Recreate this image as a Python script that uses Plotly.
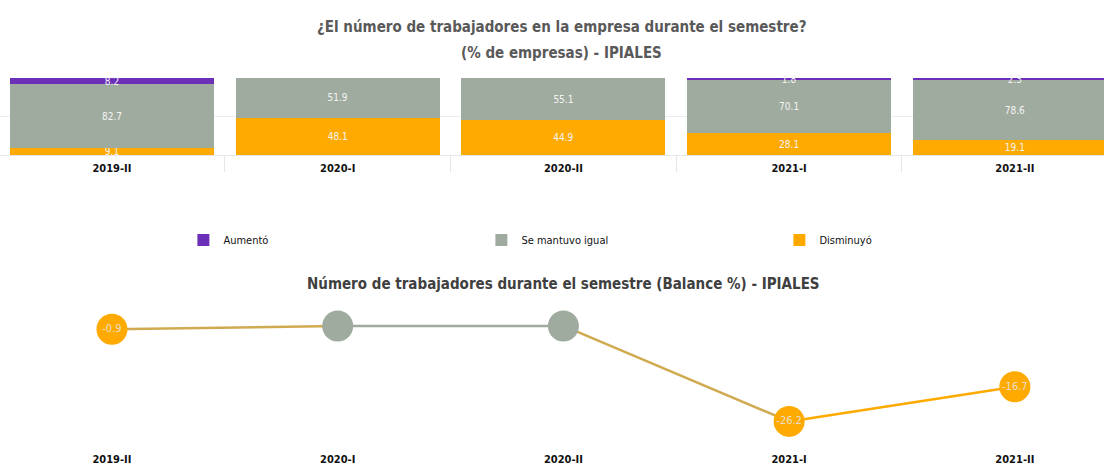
import plotly.graph_objects as go

categories = ["2019-II", "2020-I", "2020-II", "2021-I", "2021-II"]
aumento = [8.2, 0.0, 0.0, 1.8, 2.3]
igual = [82.7, 51.9, 55.1, 70.1, 78.6]
disminuyo = [9.1, 48.1, 44.9, 28.1, 19.1]
balance = [-0.9, 0.0, 0.0, -26.2, -16.7]
balance_has_data = [True, False, False, True, True]

C_PURPLE = "#6B2FB8"
C_GREY = "#A0AB9F"
C_ORANGE = "#FFAA00"
C_MIX = "#D0AA50"
FONT = "DejaVu Sans Condensed, Liberation Sans Narrow, Open Sans, sans-serif"

fig = go.Figure()

def fmt(v):
    return "" if v == 0 else f"{v:.1f}"

for name, vals, col in [("Disminuyó", disminuyo, C_ORANGE),
                        ("Se mantuvo igual", igual, C_GREY),
                        ("Aumentó", aumento, C_PURPLE)]:
    fig.add_trace(go.Bar(
        x=categories, y=vals, name=name, marker=dict(color=col, line=dict(width=0)),
        text=[fmt(v) for v in vals], textposition="inside", insidetextanchor="middle",
        textfont=dict(color="#F4F4F4", size=10, family=FONT),
        xaxis="x", yaxis="y", cliponaxis=False, hoverinfo="x+y+name"))

# line segments
for i in range(len(categories) - 1):
    a, b = balance_has_data[i], balance_has_data[i + 1]
    col = C_ORANGE if (a and b) else (C_GREY if (not a and not b) else C_MIX)
    fig.add_trace(go.Scatter(
        x=categories[i:i + 2], y=balance[i:i + 2], mode="lines",
        line=dict(color=col, width=2.5), xaxis="x2", yaxis="y2",
        showlegend=False, hoverinfo="skip", cliponaxis=False))

fig.add_trace(go.Scatter(
    x=categories, y=balance, mode="markers+text",
    marker=dict(size=31, color=[C_ORANGE if h else C_GREY for h in balance_has_data],
                line=dict(width=0)),
    text=[f"{v:.1f}" if h else "" for v, h in zip(balance, balance_has_data)],
    textposition="middle center",
    textfont=dict(color="#E9DFC8", size=11, family=FONT),
    xaxis="x2", yaxis="y2", showlegend=False, cliponaxis=False))

H = 465.0
TICKFONT = dict(size=11, family=FONT, color="#111111", weight="bold")
fig.update_layout(
    width=1104, height=465,
    margin=dict(l=0, r=0, t=0, b=0, autoexpand=False),
    paper_bgcolor="white", plot_bgcolor="white",
    barmode="stack", bargap=0.096,
    font=dict(family=FONT, color="#000000"),
    uniformtext=dict(minsize=10, mode="show"),
    showlegend=True,
    legend=dict(orientation="h", x=0.571, y=1 - 240 / H, yanchor="middle", xanchor="center",
                traceorder="reversed", entrywidth=253, entrywidthmode="pixels",
                itemwidth=30, font=dict(size=11, family=FONT, color="#111111"),
                bgcolor="rgba(0,0,0,0)"),
    xaxis=dict(domain=[0, 1], range=[-0.496, 4.395], type="category",
               showgrid=False, tickson="boundaries", ticks="outside", ticklen=16,
               tickcolor="#E6E6E6", showline=True, linecolor="#E6E6E6",
               tickfont=TICKFONT, anchor="y", ticklabelstandoff=3),
    yaxis=dict(domain=[1 - 155 / H, 1 - 78 / H], range=[0, 100], dtick=50,
               showgrid=True, gridcolor="#EDEDED", showticklabels=False,
               zeroline=False, anchor="x"),
    xaxis2=dict(domain=[0, 1], range=[-0.496, 4.395], type="category",
                showgrid=False, showline=False, ticks="",
                tickfont=TICKFONT, anchor="y2", ticklabelstandoff=3),
    yaxis2=dict(domain=[1 - 448 / H, 1 - 311 / H], range=[-33.5, 4.1],
                showgrid=False, showticklabels=False, zeroline=False, anchor="x2"),
    annotations=[
        dict(text="<b>¿El número de trabajadores en la empresa durante el semestre?</b>",
             x=561 / 1104, y=1 - 27 / H, xref="paper", yref="paper", showarrow=False,
             yanchor="middle", font=dict(size=15, family=FONT, color="#595959")),
        dict(text="<b>(% de empresas) - IPIALES</b>",
             x=561 / 1104, y=1 - 53 / H, xref="paper", yref="paper", showarrow=False,
             yanchor="middle", font=dict(size=15, family=FONT, color="#595959")),
        dict(text="<b>Número de trabajadores durante el semestre (Balance %) - IPIALES</b>",
             x=563 / 1104, y=1 - 284 / H, xref="paper", yref="paper", showarrow=False,
             yanchor="middle", font=dict(size=15, family=FONT, color="#404040")),
    ],
)

fig.write_html("out.html", config={"displayModeBar": False},
               post_script="document.body.style.margin='0px';")
